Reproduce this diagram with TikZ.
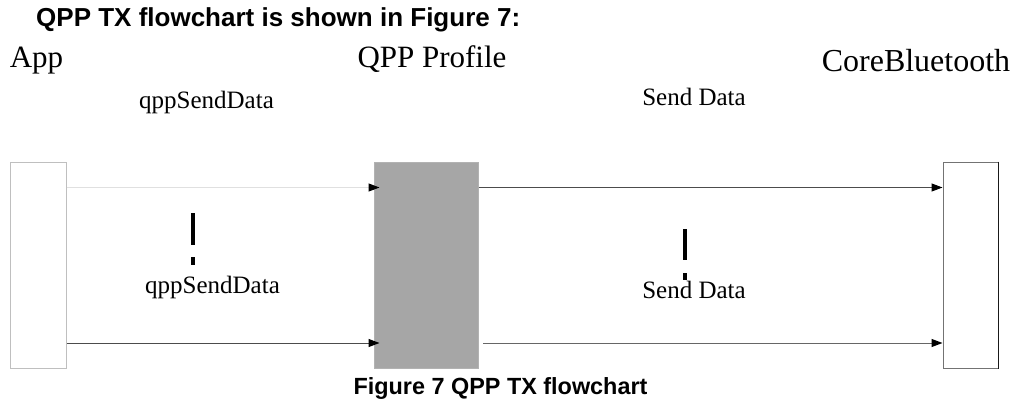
\documentclass[tikz,border=0pt]{standalone}
\usepackage{fontspec}
\setmainfont{Liberation Serif}
\newfontfamily\arialfont{Liberation Sans}
\usetikzlibrary{arrows.meta}
\tikzset{
  lifebox/.style={draw=#1, line width=1pt, inner sep=0pt, minimum height=206pt},
  msg/.style={line width=1pt, -{Triangle[length=11pt,width=8pt,color=black]}},
  lbl/.style={inner sep=0pt, anchor=base, font=\fontsize{25}{25}\selectfont},
  head/.style={inner sep=0pt, anchor=base, font=\fontsize{31}{31}\selectfont},
  tick/.style={line width=4pt, black},
}
\begin{document}
\begin{tikzpicture}[x=1pt,y=-1pt]
\useasboundingbox (0,0) rectangle (1023,404);
% title
\node[inner sep=0pt, anchor=base west, font=\arialfont\bfseries\fontsize{26}{26}\selectfont] (title) at (36,27) {QPP TX flowchart is shown in Figure 7:};
% headers
\node[head] (happ) at (36.5,68) {App};
\node[head] (hqpp) at (432,68) {QPP Profile};
\node[head, font=\fontsize{32}{32}\selectfont] (hcb) at (916,71) {CoreBluetooth};
\node[lbl] (l1) at (206.5,108) {qppSendData};
\node[lbl] (l2) at (694,105) {Send Data};
% boxes
\node[lifebox=black!25, minimum width=56pt] (app) at (38,265) {};
\node[lifebox=black!30, fill=black!35, minimum width=104pt] (qpp) at (426,265) {};
\node[lifebox=black!55, minimum width=55pt] (cb) at (970.5,265) {};
\draw[line width=1pt, black!90] (cb.north east) -- (cb.south east);
% arrows
\coordinate (t1) at (0,187.5);
\coordinate (b1) at (0,343);
\coordinate (b2s) at (483,343);
\draw[msg, draw=black!12] (app.east |- t1) -- ([xshift=6pt]qpp.west |- t1);
\draw[msg, draw=black!70] (app.east |- b1) -- ([xshift=6pt]qpp.west |- b1);
\draw[msg, draw=black!70] (qpp.east |- t1) -- (cb.west |- t1);
\draw[msg, draw=black!60] (b2s) -- (cb.west |- b1);
% lifeline marks
\coordinate (m1a) at (193,213); \coordinate (m1b) at (193,245);
\coordinate (m1c) at (193,257); \coordinate (m1d) at (193,265);
\draw[tick] (m1a) -- (m1b); \draw[tick] (m1c) -- (m1d);
\coordinate (m2a) at (685,229); \coordinate (m2b) at (685,260);
\coordinate (m2c) at (685,273); \coordinate (m2d) at (685,280);
\draw[tick] (m2a) -- (m2b); \draw[tick] (m2c) -- (m2d);
\node[lbl] (l3) at (212.5,293) {qppSendData};
\node[lbl] (l4) at (694,298) {Send Data};
% caption
\node[inner sep=0pt, anchor=base, font=\arialfont\bfseries\fontsize{23.4}{23.4}\selectfont] (cap) at (500.5,394) {Figure 7 QPP TX flowchart};
\end{tikzpicture}
\end{document}
